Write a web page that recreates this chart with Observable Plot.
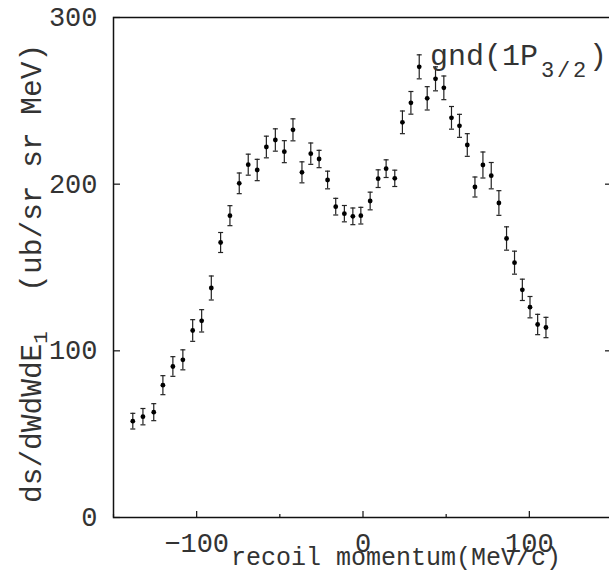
<!DOCTYPE html>
<html>
<head>
<meta charset="utf-8">
<script src="https://cdn.jsdelivr.net/npm/d3@7"></script>
<script src="https://cdn.jsdelivr.net/npm/@observablehq/plot@0.6"></script>
<style>
  html, body { margin: 0; padding: 0; background: #fff; }
  #chart svg { display: block; }
</style>
</head>
<body>
<div id="chart"></div>
<script>
// recoil momentum (MeV/c)
const momentum = [-138.4, -132.3, -125.8, -120.3, -114.3, -108.3, -102.4, -97.0, -91.2, -85.6,
  -80.0, -74.4, -69.0, -63.6, -58.1, -52.7, -47.3, -42.1, -36.7, -31.4,
  -26.4, -21.3, -16.4, -11.2, -6.1, -1.3, 4.3, 9.1, 13.9, 19.1,
  23.7, 28.8, 33.8, 38.6, 43.6, 48.6, 53.2, 58.0, 62.7, 67.3,
  72.1, 77.1, 81.7, 86.3, 91.1, 95.8, 100.4, 105.0, 110.0];
// cross section (ub/sr sr MeV)
const crossSection = [57.8, 60.5, 63.2, 79.4, 90.6, 94.6, 112.2, 118.0, 137.7, 165.0,
  181.1, 200.5, 211.7, 208.5, 222.3, 226.5, 219.5, 232.6, 207.1, 218.3,
  215.1, 202.5, 186.5, 182.3, 180.7, 181.1, 189.9, 203.3, 209.3, 203.5,
  237.1, 248.8, 270.4, 251.5, 263.2, 257.8, 239.8, 235.0, 223.5, 198.3,
  211.5, 205.1, 188.7, 167.4, 152.9, 136.6, 126.2, 115.8, 114.0];
// statistical errors
const errors = [4.7, 4.9, 5.1, 5.7, 5.9, 6.0, 6.5, 6.7, 7.2, 6.0,
  6.0, 6.2, 6.3, 6.4, 6.5, 6.7, 6.6, 6.6, 6.3, 6.4,
  5.2, 5.3, 5.0, 4.9, 5.0, 5.0, 5.3, 5.3, 5.3, 4.9,
  6.8, 6.8, 7.2, 7.0, 7.2, 7.1, 6.8, 6.9, 6.8, 6.0,
  7.8, 7.9, 7.4, 7.0, 6.9, 6.4, 6.4, 6.1, 6.1];

const xMajorTicks = [-100, 0, 100];
const xMinorTicks = [-150, -50, 50, 150];
const yMajorTicks = [0, 100, 200, 300];
const yRightTicks = [100, 200];

const data = momentum.map((x, i) => ({x, y: crossSection[i], e: errors[i]}));

const capSymbol = {
  draw(ctx) { ctx.moveTo(-2.5, 0); ctx.lineTo(2.5, 0); }
};

const W = 609, H = 579;
const FONT = "'Liberation Mono', 'DejaVu Sans Mono', monospace";

const plot = Plot.plot({
  width: W,
  height: H,
  marginLeft: 113,
  marginTop: 17,
  marginBottom: 62,
  marginRight: -3,
  style: {fontFamily: FONT, fontSize: "27px", color: "#111", background: "#fff"},
  x: {domain: [-150, 150]},
  y: {domain: [0, 300]},
  marks: [
    Plot.frame({stroke: "#111", strokeWidth: 1.5}),
    // y labels
    Plot.axisY({ticks: yMajorTicks, tickSize: 0, tickPadding: 16, label: null, fill: "#333"}),
    // y inward ticks
    Plot.axisY({ticks: yMajorTicks, tickSize: 7, text: null, label: null, dx: 7, strokeWidth: 1.2}),
    Plot.axisY({anchor: "right", ticks: yRightTicks, tickSize: 8, text: null, label: null, dx: -8, strokeWidth: 1.2}),
    // x labels
    Plot.axisX({ticks: xMajorTicks, tickSize: 0, tickPadding: 15, label: null, fill: "#333"}),
    // x inward ticks
    Plot.axisX({ticks: xMajorTicks, tickSize: 6, text: null, label: null, dy: -6, strokeWidth: 1.2}),
    Plot.axisX({ticks: xMinorTicks, tickSize: 3, text: null, label: null, dy: -3, strokeWidth: 1.2}),
    // error bars
    Plot.ruleX(data, {x: "x", y1: d => d.y - d.e, y2: d => d.y + d.e, stroke: "#222", strokeWidth: 1.2}),
    Plot.dot(data, {x: "x", y: d => d.y + d.e, symbol: capSymbol, stroke: "#222", strokeWidth: 1.2, fill: "none"}),
    Plot.dot(data, {x: "x", y: d => d.y - d.e, symbol: capSymbol, stroke: "#222", strokeWidth: 1.2, fill: "none"}),
    // points
    Plot.dot(data, {x: "x", y: "y", r: 2.4, fill: "#000", stroke: "none"})
  ]
});

document.getElementById("chart").appendChild(plot);

const svg = d3.select(plot);
// x-axis title
svg.append("text")
  .attr("x", 231).attr("y", 565).attr("text-anchor", "start")
  .attr("font-family", FONT).attr("font-size", 25).attr("fill", "#333")
  .text("recoil momentum(MeV/c)");

// y-axis title (rotated, with subscript)
const yt = svg.append("text")
  .attr("transform", "translate(41,503) rotate(-90)").attr("text-anchor", "start")
  .attr("font-family", FONT).attr("font-size", 29.5).attr("fill", "#333");
yt.append("tspan").text("ds/dWdWdE");
yt.append("tspan").attr("font-size", 21).attr("dy", 6).text("1");
yt.append("tspan").attr("dy", -6).attr("dx", 4).text("\u00a0\u00a0(ub/sr sr MeV)");

// annotation
const an = svg.append("text")
  .attr("x", 430).attr("y", 65).attr("text-anchor", "start")
  .attr("font-family", FONT).attr("font-size", 30).attr("fill", "#333");
an.append("tspan").text("gnd(1P");
an.append("tspan").attr("font-size", 22).attr("letter-spacing", 2.8).attr("dx", 3).attr("dy", 12).text("3/2");
an.append("tspan").attr("dy", -12).text(")");
</script>
</body>
</html>
